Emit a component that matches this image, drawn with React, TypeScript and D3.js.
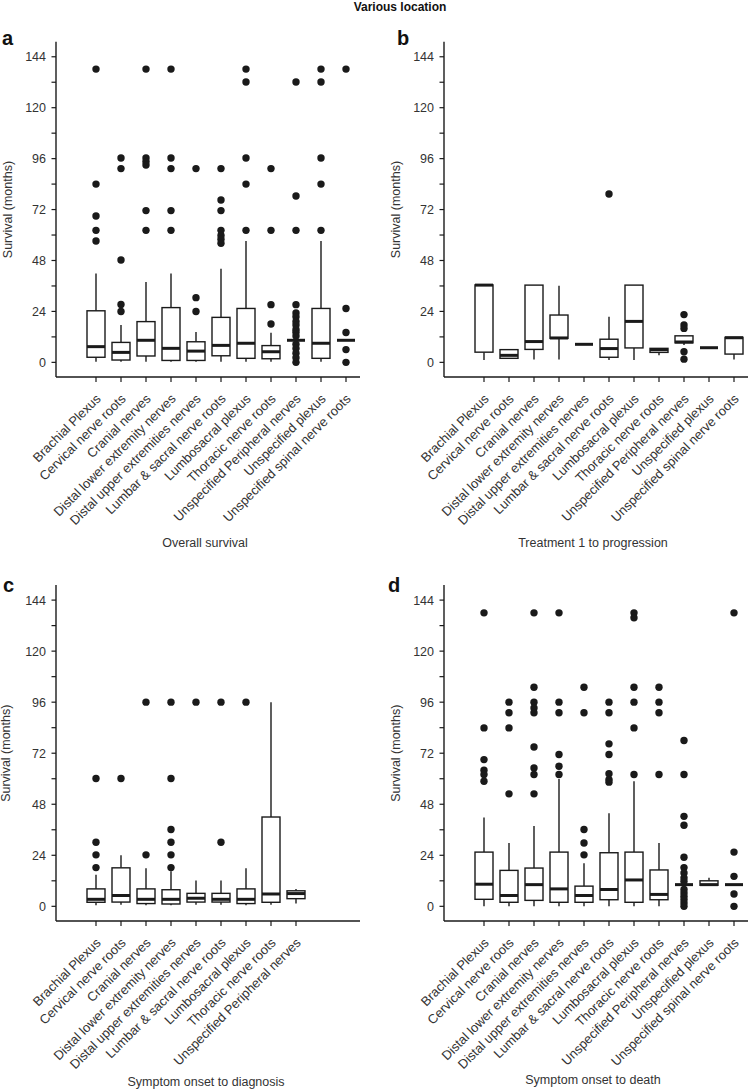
import React from "react";
import * as d3 from "d3";

const FONT = "'Liberation Sans', Arial, Helvetica, sans-serif";

const ALL_CATS = [
  "Brachial Plexus",
  "Cervical nerve roots",
  "Cranial nerves",
  "Distal lower extremity nerves",
  "Distal upper extremities nerves",
  "Lumbar & sacral nerve roots",
  "Lumbosacral plexus",
  "Thoracic nerve roots",
  "Unspecified Peripheral nerves",
  "Unspecified plexus",
  "Unspecified spinal nerve roots",
];
const C_CATS = ALL_CATS.slice(0, 9);

const Y_TICKS = [0, 12, 24, 36, 48, 60, 72, 84, 96, 108, 120, 132, 144];
const Y_LABELS = [0, 24, 48, 72, 96, 120, 144];

// Panel a: Overall survival
const aLo = [0.3, 0.3, 0.3, 0.3, 0.3, 0.3, 0.3, 0.3, 10.4, 0.3, 10.4];
const aQ1 = [2.4, 1.1, 3.0, 0.9, 0.9, 3.1, 1.9, 1.7, 10.4, 1.9, 10.4];
const aMed = [7.4, 4.7, 10.4, 6.6, 5.3, 8.0, 9.0, 5.0, 10.4, 9.0, 10.4];
const aQ3 = [24.3, 9.4, 19.2, 25.8, 9.7, 21.2, 25.4, 7.9, 10.4, 25.4, 10.4];
const aHi = [41.9, 17.6, 37.9, 41.9, 14.3, 44.1, 57.2, 14.0, 10.4, 57.2, 10.4];
const aOut = [
  [138.2, 84, 69, 62.2, 57.2],
  [96.3, 91.3, 48.2, 27.3, 24],
  [138.2, 96.3, 94.6, 93, 71.5, 62.2],
  [138.2, 96.3, 91.3, 71.5, 62.2],
  [91.3, 30.5, 24],
  [91.3, 76.5, 71.5, 62.2, 59.8, 58, 56.1],
  [138.2, 132.1, 96.3, 84, 62.2],
  [91.3, 62.2, 27.2, 18.1],
  [132.1, 78.4, 62.2, 27.2, 23.3, 21.5, 19.3, 17.6, 15.5, 14.2, 12.4, 8.5, 6.5, 4.3, 2.2, 0],
  [138.2, 132.1, 96.3, 84, 62.2],
  [138.2, 25.4, 14.1, 6.0, 0],
];

// Panel b: Treatment 1 to progression
const bLo = [1.1, 1.6, 1.4, 1.4, 8.5, 1.1, 1.1, 3.4, 8.2, 6.9, 1.4];
const bQ1 = [4.8, 1.9, 6.1, 11.3, 8.5, 2.4, 6.8, 4.7, 9.2, 6.9, 3.9];
const bMed = [36.4, 3.3, 9.8, 11.5, 8.5, 6.5, 19.3, 6.0, 9.6, 6.9, 11.6];
const bQ3 = [36.5, 6.0, 36.4, 22.3, 8.5, 10.9, 36.4, 6.6, 12.5, 6.9, 11.8];
const bHi = [36.5, 6.2, 36.4, 36.1, 8.5, 21.5, 36.4, 6.6, 12.5, 6.9, 11.8];
const bOut = [[], [], [], [], [], [79.3], [], [], [22.5, 17.6, 16, 5, 1.5], [], []];

// Panel c: Symptom onset to diagnosis
const cLo = [0.5, 0.8, 0.5, 0.5, 0.8, 0.8, 0.5, 0.8, 1.3];
const cQ1 = [1.9, 2.0, 1.3, 1.1, 2.0, 2.0, 1.3, 1.9, 3.6];
const cMed = [3.3, 5.1, 3.3, 3.3, 3.8, 3.3, 3.3, 5.8, 6.0];
const cQ3 = [8.2, 18.1, 8.2, 7.8, 6.1, 6.1, 8.2, 42.0, 7.3];
const cHi = [14.9, 24.0, 17.9, 16.5, 12.1, 12.1, 17.9, 96.0, 8.2];
const cOut = [
  [60.1, 30.1, 24.2, 18.2],
  [60.1],
  [96, 24.2],
  [96, 60.1, 36.1, 30.1, 24.2, 18.2],
  [96],
  [96, 30.1],
  [96],
  [],
  [],
];

// Panel d: Symptom onset to death
const dLo = [0, 0, 0, 0, 0, 0, 0, 0, 10.2, 9.9, 10.2];
const dQ1 = [3.3, 1.9, 2.8, 1.9, 1.9, 3.1, 1.9, 3.1, 10.2, 9.9, 10.2];
const dMed = [10.4, 5.1, 10.2, 8.2, 5.1, 7.9, 12.4, 5.6, 10.2, 10.2, 10.2];
const dQ3 = [25.5, 16.9, 18.0, 25.5, 9.5, 25.2, 25.5, 17.1, 10.2, 12.0, 10.2];
const dHi = [41.8, 29.8, 37.8, 59.9, 20.2, 43.8, 58.8, 29.8, 10.2, 13.4, 10.2];
const dOut = [
  [138, 83.9, 69, 64, 62, 58.8],
  [96, 91, 83.9, 52.9],
  [138, 103, 96, 93.3, 91, 74.9, 65.1, 62, 52.9],
  [138, 96, 91, 71.4, 65.9, 62],
  [103, 91, 36.1, 29.8, 24.2],
  [96, 91, 76.4, 71.4, 62.4, 59.6, 58.4],
  [138, 135.7, 103, 96, 83.9, 62],
  [103, 96, 91, 62],
  [78, 62, 42.3, 38.1, 23.1, 18.2, 15.7, 13.4, 11.8, 7.9, 6.3, 4.7, 3.2, 1.6, 0],
  [],
  [138, 25.5, 14.1, 5.8, 0],
];

const PANELS = [
  { letter: "a", lx: 2, ly: 45, L: 56, T: 41.7, B: 377, R: 360, cats: ALL_CATS, lo: aLo, q1: aQ1, med: aMed, q3: aQ3, hi: aHi, out: aOut, title: "Overall survival", tx: 205, ty: 547, ytx: 12 },
  { letter: "b", lx: 397, ly: 45, L: 444, T: 41.7, B: 377, R: 748, cats: ALL_CATS, lo: bLo, q1: bQ1, med: bMed, q3: bQ3, hi: bHi, out: bOut, title: "Treatment 1 to progression", tx: 593, ty: 547, ytx: 400 },
  { letter: "c", lx: 3, ly: 592, L: 56, T: 585, B: 921, R: 360, cats: C_CATS, lo: cLo, q1: cQ1, med: cMed, q3: cQ3, hi: cHi, out: cOut, title: "Symptom onset to diagnosis", tx: 206, ty: 1086, ytx: 10 },
  { letter: "d", lx: 388, ly: 592, L: 444, T: 585, B: 921, R: 748, cats: ALL_CATS, lo: dLo, q1: dQ1, med: dMed, q3: dQ3, hi: dHi, out: dOut, title: "Symptom onset to death", tx: 593, ty: 1084, ytx: 400 },
];

const INK = "#1a1a1a";
const TXT = "#333";

function Panel({ p }: { p: any }) {
  const y = d3.scaleLinear().domain([-6.9, 151.1]).range([p.B, p.T]);
  const x = d3.scalePoint<string>().domain(ALL_CATS).range([p.L + 40, p.L + 290]);
  const hw = 9;
  return (
    <g>
      <text x={p.lx} y={p.ly} fontFamily={FONT} fontWeight="bold" fontSize={20} fill="#111">{p.letter}</text>
      <line x1={p.L} x2={p.L} y1={p.T} y2={p.B} stroke={INK} strokeWidth={1.4} />
      <line x1={p.L} x2={p.R} y1={p.B} y2={p.B} stroke={INK} strokeWidth={1.4} />
      {Y_TICKS.map((t) => (
        <line key={"yt" + t} x1={p.L - 4.5} x2={p.L} y1={y(t)} y2={y(t)} stroke={INK} strokeWidth={1.2} />
      ))}
      {Y_LABELS.map((t) => (
        <text key={"yl" + t} x={p.L - 10} y={y(t)} dy="0.36em" textAnchor="end" fontFamily={FONT} fontSize={12.5} fill={TXT}>{t}</text>
      ))}
      <text transform={`translate(${p.ytx},${(y(0) + y(144)) / 2}) rotate(-90)`} textAnchor="middle" fontFamily={FONT} fontSize={12.5} fill={TXT}>Survival (months)</text>
      {p.cats.map((c: string) => (
        <g key={"xt" + c}>
          <line x1={x(c)} x2={x(c)} y1={p.B} y2={p.B + 5} stroke={INK} strokeWidth={1.2} />
          <text transform={`translate(${(x(c) as number) + 0},${p.B + 17}) rotate(-45)`} textAnchor="end" dy="0.6em" fontFamily={FONT} fontSize={13} fill={TXT}>{c}</text>
        </g>
      ))}
      {p.cats.map((c: string, i: number) => {
        const cx = x(c) as number;
        return (
          <g key={"b" + c}>
            <line x1={cx} x2={cx} y1={y(p.q3[i])} y2={y(p.hi[i])} stroke={INK} strokeWidth={1.4} />
            <line x1={cx} x2={cx} y1={y(p.q1[i])} y2={y(p.lo[i])} stroke={INK} strokeWidth={1.4} />
            <rect x={cx - hw} y={y(p.q3[i])} width={hw * 2} height={Math.max(0, y(p.q1[i]) - y(p.q3[i]))} fill="#fff" stroke={INK} strokeWidth={1.4} />
            <line x1={cx - hw} x2={cx + hw} y1={y(p.med[i])} y2={y(p.med[i])} stroke={INK} strokeWidth={3} />
            {p.out[i].map((v: number, k: number) => (
              <circle key={k} cx={cx} cy={y(v)} r={3.7} fill={INK} />
            ))}
          </g>
        );
      })}
      <text x={p.tx} y={p.ty} textAnchor="middle" fontFamily={FONT} fontSize={12.5} fill={TXT}>{p.title}</text>
    </g>
  );
}

export default function App() {
  return (
    <svg width={749} height={1092} style={{ position: "absolute", left: 0, top: 0, background: "#fff" }}>
      <rect width={749} height={1092} fill="#fff" />
      <text x={400} y={11} textAnchor="middle" fontFamily={FONT} fontWeight="bold" fontSize={12} fill="#111">Various location</text>
      {PANELS.map((p) => (
        <Panel key={p.letter} p={p} />
      ))}
    </svg>
  );
}
